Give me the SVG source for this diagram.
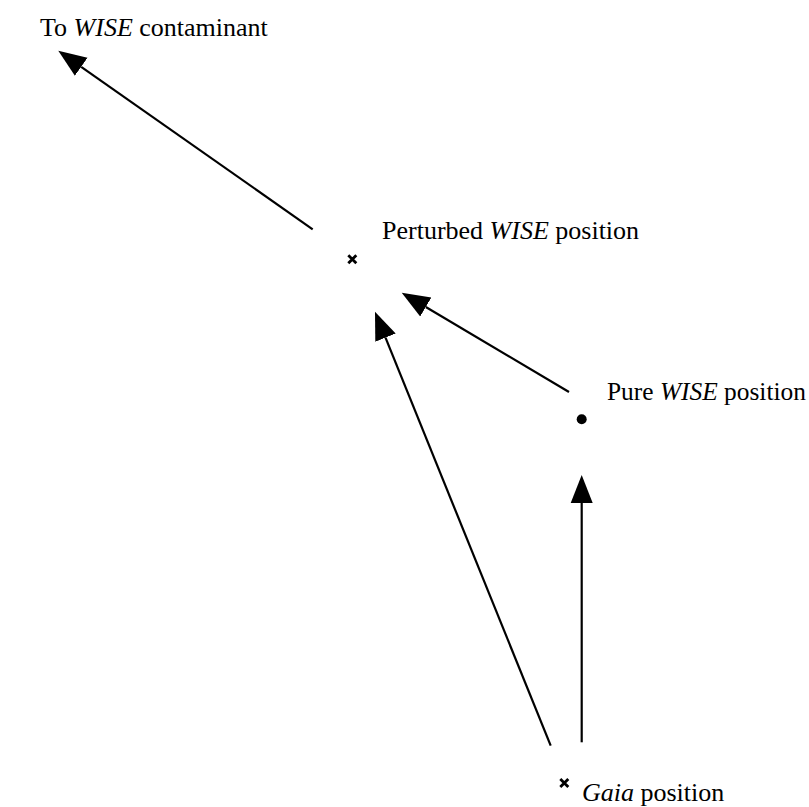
<svg xmlns="http://www.w3.org/2000/svg" width="809" height="807" viewBox="0 0 809 807">
<defs>
<style>
text{font-family:"Liberation Serif","Times New Roman",serif;font-size:26px;fill:#000}
.it{font-style:italic}
.ln{stroke:#000;stroke-width:2.2;fill:none}
.x{stroke:#000;stroke-width:2.8;stroke-linecap:butt}
</style>
<marker id="ah" markerUnits="userSpaceOnUse" markerWidth="30" markerHeight="24" viewBox="0 -12 30 24" refX="0" refY="0" orient="auto">
<path d="M0,-11 L28,0 L0,11 z" fill="#000"/>
</marker>
</defs>
<rect width="809" height="807" fill="#fff"/>
<g id="connectors">
<line class="ln" x1="312.7" y1="229.3" x2="81.2" y2="66.8" marker-end="url(#ah)"/>
<line class="ln" x1="569" y1="392" x2="425.8" y2="307" marker-end="url(#ah)"/>
<line class="ln" x1="550.7" y1="745.7" x2="385.5" y2="337.7" marker-end="url(#ah)"/>
<line class="ln" x1="581.7" y1="742.3" x2="581.7" y2="503" marker-end="url(#ah)"/>
</g>
<g id="contaminant">
<text x="40" y="36">To <tspan class="it">WISE</tspan> contaminant</text>
</g>
<g id="perturbed">
<path class="x" d="M348.3,255.3 L356.3,263.3 M356.3,255.3 L348.3,263.3"/>
<text x="382" y="239">Perturbed <tspan class="it">WISE</tspan> position</text>
</g>
<g id="pure">
<circle cx="581.7" cy="419.3" r="5"/>
<text x="607" y="400" style="font-size:25.4px">Pure <tspan class="it">WISE</tspan> position</text>
</g>
<g id="gaia">
<path class="x" d="M560.3,779 L568.3,787 M568.3,779 L560.3,787"/>
<text x="582" y="801"><tspan class="it">Gaia</tspan> position</text>
</g>
</svg>
